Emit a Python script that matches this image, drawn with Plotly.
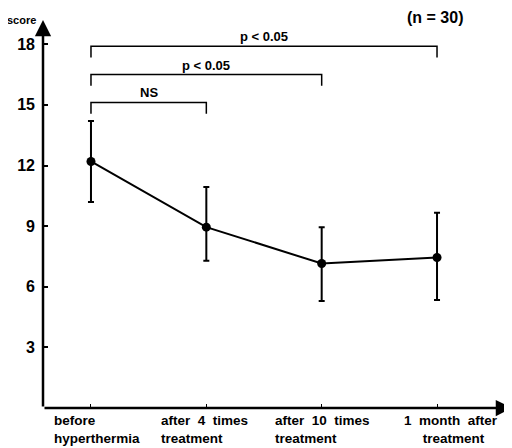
import plotly.graph_objects as go

categories = ["before\nhyperthermia", "after  4  times\ntreatment", "after  10  times\ntreatment", "1  month  after\n     treatment"]
x_pos = [1, 2, 3, 4]
mean_score = [12.2, 8.95, 7.15, 7.45]
err_upper = [14.2, 10.94, 8.95, 9.66]
err_lower = [10.2, 7.29, 5.30, 5.34]
y_ticks = [3, 6, 9, 12, 15, 18]

bracket_ends = [2, 3, 4]
bracket_level = [15.12, 16.5, 17.9]
bracket_drop = [0.56, 0.55, 0.56]
bracket_text = ["NS", "p < 0.05", "p < 0.05"]

FONT = "Liberation Sans, Arial, sans-serif"
XMIN, XMAX = 0.584, 4.65
YMAX = 19.2

fig = go.Figure()
fig.add_trace(go.Scatter(
    x=x_pos, y=mean_score, mode="lines+markers",
    line=dict(color="black", width=2),
    marker=dict(color="black", size=9),
    error_y=dict(type="data", symmetric=False,
                 array=[u - m for u, m in zip(err_upper, mean_score)],
                 arrayminus=[m - l for m, l in zip(mean_score, err_lower)],
                 color="black", thickness=2, width=3),
    showlegend=False, cliponaxis=False,
))

shapes = []
annotations = []
for end, lvl, drop, txt in zip(bracket_ends, bracket_level, bracket_drop, bracket_text):
    shapes.append(dict(type="path", xref="x", yref="y",
                       path=f"M {x_pos[0]},{lvl - drop} L {x_pos[0]},{lvl} L {end},{lvl} L {end},{lvl - drop}",
                       line=dict(color="black", width=1.5)))
    annotations.append(dict(x=(x_pos[0] + end) / 2, y=lvl, xref="x", yref="y",
                            text=txt, showarrow=False, yanchor="bottom", yshift=0,
                            font=dict(family=FONT, size=13, color="black", weight="bold")))

# axis arrows
annotations.append(dict(x=XMIN, y=YMAX, ax=XMIN, ay=0, xref="x", yref="y", axref="x", ayref="y",
                        text="", showarrow=True, arrowhead=2, arrowsize=1.3, arrowwidth=2.5,
                        arrowcolor="black", standoff=0, startstandoff=0))
annotations.append(dict(x=XMAX, y=0, ax=XMIN, ay=0, xref="x", yref="y", axref="x", ayref="y",
                        text="", showarrow=True, arrowhead=2, arrowsize=1.3, arrowwidth=2.5,
                        arrowcolor="black", standoff=0, startstandoff=0))

# category labels
label_shift = [6, -2, 1, 14]
for xp, cat, sh in zip(x_pos, categories, label_shift):
    txt = cat.replace("  ", "&nbsp;&nbsp;").replace("\n", "<br>").replace("   ", "&nbsp;&nbsp;&nbsp;")
    annotations.append(dict(x=xp, y=0, xref="x", yref="y", text=txt,
                            showarrow=False, align="left", xanchor="center", yanchor="top",
                            xshift=sh, yshift=-3,
                            font=dict(family=FONT, size=13.5, color="black", weight="bold")))

annotations.append(dict(x=0, y=1, xref="paper", yref="paper", text="score", showarrow=False,
                        xanchor="center", yanchor="middle", xshift=-22, yshift=0,
                        font=dict(family=FONT, size=11, color="black", weight="bold")))
annotations.append(dict(x=0.836, y=1, xref="paper", yref="paper", text="(n = 30)", showarrow=False,
                        xanchor="center", yanchor="middle", yshift=3,
                        font=dict(family=FONT, size=16, color="black", weight="bold")))

# page body adds an 8px margin, so the figure is sized to fill the rest of the window
fig.update_layout(
    width=504, height=440,
    margin=dict(l=35, r=0, t=12, b=40, autoexpand=False),
    paper_bgcolor="white", plot_bgcolor="white",
    shapes=shapes, annotations=annotations,
    xaxis=dict(range=[XMIN, XMAX], tickvals=x_pos, ticktext=[""] * 4, ticks="inside",
               ticklen=4, tickwidth=1, tickcolor="black", showgrid=False, zeroline=False,
               showline=False, automargin=False),
    yaxis=dict(range=[0, YMAX], tickvals=y_ticks, ticks="inside", ticklen=5, tickwidth=2,
               tickcolor="black", showgrid=False, zeroline=False, showline=False,
               ticklabelstandoff=7, automargin=False,
               tickfont=dict(family=FONT, size=16, color="black", weight="bold")),
)

fig.write_html("out.html")
